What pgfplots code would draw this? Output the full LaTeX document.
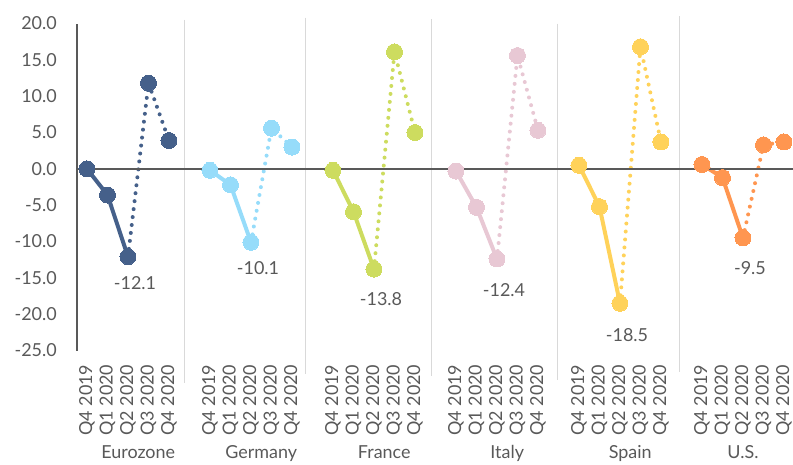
\documentclass[border=0pt]{standalone}
\usepackage{pgfplots}
\pgfplotsset{compat=1.18}
\usepackage{fontspec}
\setmainfont{Lato}
\definecolor{ez}{HTML}{45608A}
\definecolor{de}{HTML}{96DCFA}
\definecolor{fr}{HTML}{CDDC5F}
\definecolor{it}{HTML}{E8C8D4}
\definecolor{es}{HTML}{FFD25A}
\definecolor{us}{HTML}{FF9650}
\definecolor{txt}{HTML}{595959}
\definecolor{sep}{HTML}{D9D9D9}
\newcommand{\lblfont}{\fontsize{18}{21}\selectfont}
\pgfplotsset{
  solidser/.style={line width=4bp, mark=*, mark size=8bp, mark options={solid, line width=0pt}},
  dotser/.style={line width=4bp, dash pattern=on 0bp off 8bp, line cap=round, mark=none},
  markser/.style={only marks, mark=*, mark size=8bp, mark options={line width=0pt}},
  lblser/.style={draw=none, mark=none, nodes near coords, point meta=y,
     nodes near coords={\pgfmathprintnumber[fixed,fixed zerofill,precision=1,assume math mode=true]{\pgfplotspointmeta}},
     every node near coord/.style={anchor=center, font=\lblfont, text=txt, xshift=7bp, yshift=-#1}},
}
\begin{document}
\begin{tikzpicture}
\begin{axis}[
  scale only axis, width=716.1bp, height=327bp,
  xmin=-0.49, xmax=34.44, ymin=-25, ymax=20,
  clip=false,
  axis y line*=left, axis x line*=bottom,
  x axis line style={draw=none},
  y axis line style={draw=txt, line width=1.5bp},
  major tick length=0pt,
  tick style={draw=none},
  ytick={-25,-20,-15,-10,-5,0,5,10,15,20},
  yticklabel style={/pgf/number format/fixed, /pgf/number format/fixed zerofill, /pgf/number format/precision=1, /pgf/number format/assume math mode=true, font=\lblfont, text=txt, inner sep=0pt},
  yticklabel shift=20bp,
  xtick={0,1,2,3,4,6,7,8,9,10,12,13,14,15,16,18,19,20,21,22,24,25,26,27,28,30,31,32,33,34},
  xticklabels={Q4 2019,Q1 2020,Q2 2020,Q3 2020,Q4 2020,Q4 2019,Q1 2020,Q2 2020,Q3 2020,Q4 2020,Q4 2019,Q1 2020,Q2 2020,Q3 2020,Q4 2020,Q4 2019,Q1 2020,Q2 2020,Q3 2020,Q4 2020,Q4 2019,Q1 2020,Q2 2020,Q3 2020,Q4 2020,Q4 2019,Q1 2020,Q2 2020,Q3 2020,Q4 2020},
  xticklabel style={rotate=90, anchor=east, inner sep=0pt, font=\lblfont, text=txt},
  xticklabel shift=14bp,
]
% separators
\draw[sep, line width=1bp] (axis cs:4.78,20.49) -- (axis cs:4.78,-29.5);
\draw[sep, line width=1bp] (axis cs:10.67,20.8) -- (axis cs:10.67,-28.2);
\draw[sep, line width=1bp] (axis cs:16.81,20.6) -- (axis cs:16.81,-28.5);
\draw[sep, line width=1bp] (axis cs:22.93,20.0) -- (axis cs:22.93,-29.0);
\draw[sep, line width=1bp] (axis cs:28.9,21.0) -- (axis cs:28.9,-28.0);

% Eurozone
\addplot[ez, dotser] coordinates {(2,-12.1) (3,11.8) (4,3.9)};
\addplot[ez, solidser] coordinates {(0,0.0) (1,-3.6) (2,-12.1)};
\addplot[ez, markser] coordinates {(3,11.8) (4,3.9)};
\addplot[lblser=26bp] coordinates {(2,-12.1)};
% Germany
\addplot[de, dotser] coordinates {(8,-10.1) (9,5.6) (10,3.0)};
\addplot[de, solidser] coordinates {(6,-0.2) (7,-2.2) (8,-10.1)};
\addplot[de, markser] coordinates {(9,5.6) (10,3.0)};
\addplot[lblser=26bp] coordinates {(8,-10.1)};
% France
\addplot[fr, dotser] coordinates {(14,-13.8) (15,16.1) (16,5.0)};
\addplot[fr, solidser] coordinates {(12,-0.2) (13,-5.9) (14,-13.8)};
\addplot[fr, markser] coordinates {(15,16.1) (16,5.0)};
\addplot[lblser=30bp] coordinates {(14,-13.8)};
% Italy
\addplot[it, dotser] coordinates {(20,-12.4) (21,15.6) (22,5.3)};
\addplot[it, solidser] coordinates {(18,-0.3) (19,-5.3) (20,-12.4)};
\addplot[it, markser] coordinates {(21,15.6) (22,5.3)};
\addplot[lblser=31bp] coordinates {(20,-12.4)};
% Spain
\addplot[es, dotser] coordinates {(26,-18.5) (27,16.8) (28,3.7)};
\addplot[es, solidser] coordinates {(24,0.5) (25,-5.2) (26,-18.5)};
\addplot[es, markser] coordinates {(27,16.8) (28,3.7)};
\addplot[lblser=32bp] coordinates {(26,-18.5)};
% U.S.
\addplot[us, dotser] coordinates {(32,-9.5) (33,3.3) (34,3.7)};
\addplot[us, solidser] coordinates {(30,0.6) (31,-1.2) (32,-9.5)};
\addplot[us, markser] coordinates {(33,3.3) (34,3.7)};
\addplot[lblser=30bp] coordinates {(32,-9.5)};

% zero line on top
\draw[txt, line width=2bp] (axis cs:-0.49,0) -- (axis cs:34.44,0);

% group labels
\node[anchor=north, inner sep=0pt, font=\lblfont, text=txt] at (axis cs:2.5,-38.0) {Eurozone};
\node[anchor=north, inner sep=0pt, font=\lblfont, text=txt] at (axis cs:8.5,-38.0) {Germany};
\node[anchor=north, inner sep=0pt, font=\lblfont, text=txt] at (axis cs:14.5,-38.0) {France};
\node[anchor=north, inner sep=0pt, font=\lblfont, text=txt] at (axis cs:20.5,-38.0) {Italy};
\node[anchor=north, inner sep=0pt, font=\lblfont, text=txt] at (axis cs:26.5,-38.0) {Spain};
\node[anchor=north, inner sep=0pt, font=\lblfont, text=txt] at (axis cs:32,-38.0) {U.S.};

\coordinate (bl) at (axis cs:-4.244,-40.75);
\coordinate (tr) at (axis cs:34.44,23.24);
\end{axis}
\pgfresetboundingbox
\path[use as bounding box] (bl) rectangle (tr);
\end{tikzpicture}
\end{document}
